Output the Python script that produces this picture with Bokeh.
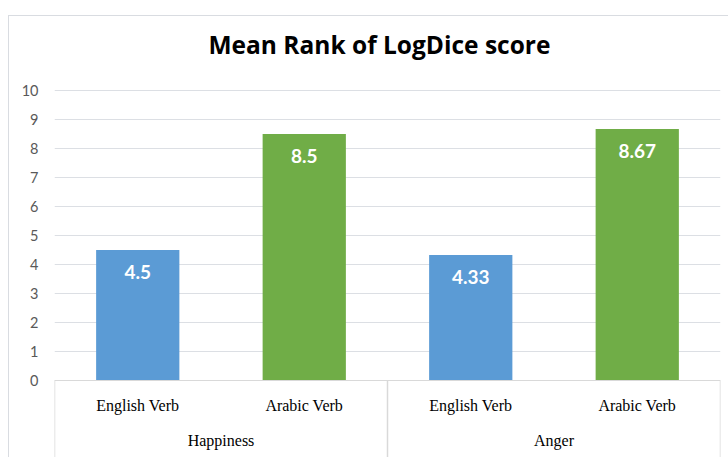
from bokeh.plotting import figure
from bokeh.models import FactorRange, Range1d, FixedTicker, Span, ColumnDataSource
from bokeh.core.properties import value
from bokeh.embed import file_html
from bokeh.resources import INLINE

# ---- data ----
groups = ["Happiness", "Anger"]
verbs = ["English Verb", "Arabic Verb"]
happiness = [4.5, 8.5]
anger = [4.33, 8.67]
y_ticks = [0, 1, 2, 3, 4, 5, 6, 7, 8, 9, 10]
colors = ["#5b9bd5", "#70ad47"]

factors = [(g, v) for g in groups for v in verbs]
values = happiness + anger
labels = [f"{v:g}" for v in values]
bar_colors = colors * len(groups)

src = ColumnDataSource(dict(x=factors, top=values, label=labels, color=bar_colors))

PX = 29.0
y_start = -78 / PX
y_end = 312 / PX

p = figure(
    width=720, height=442,
    x_range=FactorRange(*factors, group_padding=0, factor_padding=0, range_padding=0),
    y_range=Range1d(y_start, y_end),
    output_backend="svg", toolbar_location=None,
    x_axis_location=None,
    min_border_left=45, min_border_right=9, min_border_top=52, min_border_bottom=0,
)
p.styles = {
    "margin-left": "8px",
    "margin-top": "15px",
    "border-top": "1px solid #d9dce1",
    "border-left": "1px solid #d9dce1",
}
p.outline_line_color = None
p.background_fill_color = "white"
p.border_fill_color = "white"

# title
p.title.text = "Mean Rank of LogDice score"
p.title.align = "left"
p.title.text_font = "Open Sans"
p.title.text_font_style = "bold"
p.title.text_font_size = "24.5px"
p.title.text_color = "#000000"
p.title.offset = 154
p.title.standoff = 16

# y axis
p.yaxis.ticker = FixedTicker(ticks=y_ticks)
p.yaxis.axis_line_color = None
p.yaxis.major_tick_line_color = None
p.yaxis.minor_tick_line_color = None
p.yaxis.major_tick_out = 0
p.yaxis.major_tick_in = 0
p.yaxis.major_label_standoff = 16
p.yaxis.major_label_text_font = "Lato"
p.yaxis.major_label_text_font_size = "14.5px"
p.yaxis.major_label_text_color = "#595959"

p.ygrid.ticker = FixedTicker(ticks=y_ticks)
p.ygrid.grid_line_color = "#dcdfe4"
p.xgrid.grid_line_color = None

# bars
p.vbar(x="x", top="top", width=0.5, source=src, fill_color="color", line_color=None)

# data labels
p.text(x="x", y="top", text="label", source=src, text_color="white",
       text_font=value("Lato"), text_font_style="bold", text_font_size="19px",
       text_align="center", text_baseline="top", y_offset=15)

# category axis line
p.add_layout(Span(location=0, dimension="width", line_color="#d9d9d9", line_width=1))

# group separators (group edges as categorical offsets)
seps = [(g, verbs[0], -0.5) for g in groups] + [(groups[-1], verbs[-1], 0.5)]
p.segment(x0=seps, y0=[0] * len(seps), x1=seps, y1=[y_start] * len(seps),
          line_color="#d9d9d9", line_width=1.5)

# category labels
p.text(x=factors, y=[-0.86] * len(factors), text=[f[1] for f in factors],
       text_font=value("Liberation Serif"), text_font_size="16px", text_color="#000000",
       text_align="center", text_baseline="middle")
p.text(x=groups, y=[-2.07] * len(groups), text=groups,
       text_font=value("Liberation Serif"), text_font_size="16px", text_color="#000000",
       text_align="center", text_baseline="middle")

open("out.html", "w").write(file_html(p, INLINE))
